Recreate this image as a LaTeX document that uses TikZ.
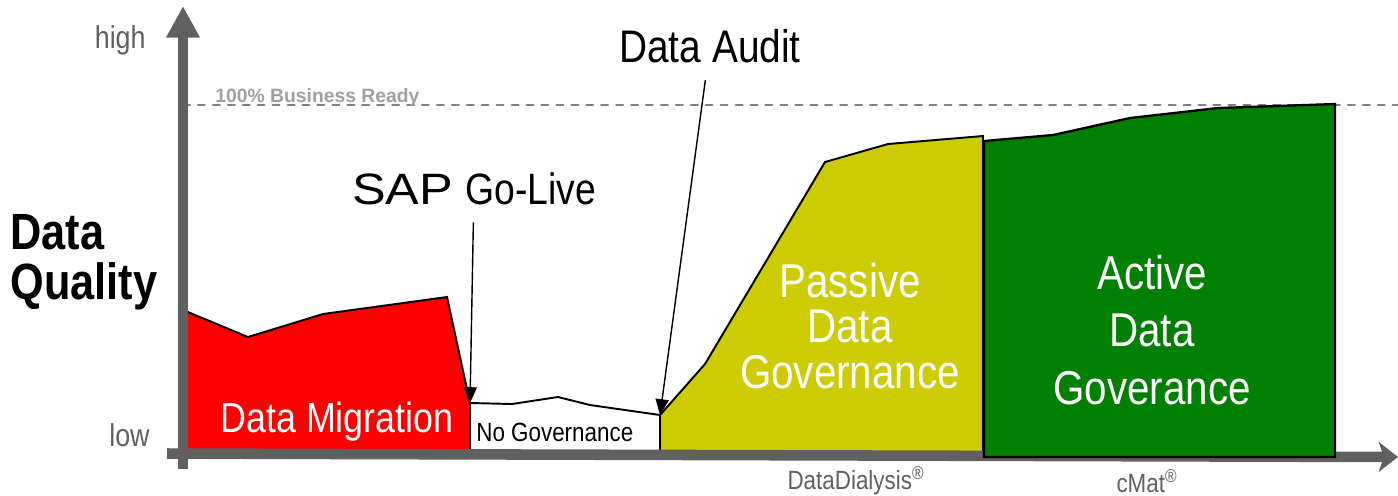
\documentclass[tikz,border=0pt]{standalone}
\usepackage{fontspec}
\setmainfont{Liberation Sans}
\newfontfamily\narrowfont{Liberation Sans}[FakeStretch=0.85]
\newfontfamily\widefont{Liberation Sans}[FakeStretch=1.15]
\usepackage{tikz}
\usepackage{tkz-euclide}
\usetikzlibrary{calc}
\usetikzlibrary{positioning}
\usetikzlibrary{arrows.meta}

\definecolor{axisgray}{HTML}{606060}
\definecolor{dashgray}{HTML}{808080}
\definecolor{readygray}{HTML}{A0A0A0}
\definecolor{migred}{HTML}{FF0000}
\definecolor{passiveyellow}{HTML}{CCCC00}
\definecolor{activegreen}{HTML}{008000}

\begin{document}
\begin{tikzpicture}[%
  >={Triangle[length=9pt, width=7.5pt]},
  x=0.02cm, y=-0.02cm,
  inner sep=0pt,
  axis/.style={line width=6pt, color=axisgray},
  area/.style={draw=black, line width=1.1pt, line join=miter},
  callout/.style={->, line width=0.8pt, shorten <=10pt},
  ready line/.style={dashgray, line width=1.1pt, dash pattern=on 4pt off 4.5pt},
]

  \useasboundingbox (0,0) rectangle (1398,495);

  \tkzDefPoint(183,105){L1}
  \tkzDefPoint(1398,105){L2}
  \tkzDrawSegment[ready line](L1,L2)

  \tkzDefPoint(183,310){R1}
  \tkzDefPoint(248,337){R2}
  \tkzDefPoint(323,314){R3}
  \tkzDefPoint(447,297){R4}
  \tkzDefPoint(470,403){R5}
  \tkzDefPoint(470,455){R6}
  \tkzDefPoint(183,455){R7}
  \tkzDrawPolygon[area,fill=migred](R1,R2,R3,R4,R5,R6,R7)

  \tkzDefPoint(512,404){W1}
  \tkzDefPoint(558,397){W2}
  \tkzDefPoint(590,405){W3}
  \tkzDefPoint(660,415){W4}
  \tkzDefPoint(660,455){W5}
  \tkzDrawPolygon[area,fill=white](R5,W1,W2,W3,W4,W5,R6)

  \tkzDefPoint(705,364){Y1}
  \tkzDefPoint(825,162){Y2}
  \tkzDefPoint(888,144){Y3}
  \tkzDefPoint(983,136){Y4}
  \tkzDefPoint(983,455){Y5}
  \tkzDrawPolygon[area,fill=passiveyellow](W4,Y1,Y2,Y3,Y4,Y5,W5)

  % axes
  \draw[axis, -{Triangle[length=18pt, width=18pt]}] (183,469) -- (183,6);
  \draw[axis, -{Stealth[length=11pt, width=17pt, inset=3pt]}] (167,453.5) -- (1398,457);

  \tkzDefPoint(984,141){G1}
  \tkzDefPoint(1053,135){G2}
  \tkzDefPoint(1130,118){G3}
  \tkzDefPoint(1218,108){G4}
  \tkzDefPoint(1335,104){G5}
  \tkzDefPoint(1335,457){G6}
  \tkzDefPoint(984,457){G7}
  \tkzDrawPolygon[area,line width=1.3pt,fill=activegreen](G1,G2,G3,G4,G5,G6,G7)

  \node[anchor=base east, text=axisgray, font=\narrowfont\fontsize{18}{18}\selectfont] (high) at (146,48) {high};
  \node[anchor=base east, text=axisgray, font=\narrowfont\fontsize{18}{18}\selectfont] (low) at (150,446) {low};
  \node[anchor=west, align=left, font=\narrowfont\bfseries\fontsize{29}{28.4}\selectfont] (quality) at (10,262) {Data\\Quality};
  \node[anchor=base west, text=readygray, font=\bfseries\fontsize{11}{11}\selectfont] (ready) at (215,102) {100\% Business Ready};

  \node[anchor=base, font=\fontsize{25}{25}\selectfont] (golive) at (474,204) {{\widefont SAP} {\narrowfont Go-Live}};
  \node[anchor=base, font=\narrowfont\fontsize{26}{26}\selectfont] (audit) at (710,62) {Data Audit};

  \node[anchor=base, text=white, font=\narrowfont\fontsize{24}{24}\selectfont] (migration) at (337,432) {Data Migration};
  \node[anchor=base west, font=\narrowfont\fontsize{15}{15}\selectfont] (nogov) at (476,441) {No Governance};
  \node[align=center, text=white, font=\narrowfont\fontsize{27}{26}\selectfont] (passive) at (850,326) {Passive\\Data\\Governance};
  \node[align=center, text=white, font=\narrowfont\fontsize{27}{32.5}\selectfont] (active) at (1152,330) {Active\\Data\\Goverance};

  \node[anchor=base, text=axisgray, font=\narrowfont\fontsize{15}{15}\selectfont] (dialysis) at (856,489) {DataDialysis\textsuperscript{\textregistered}};
  \node[anchor=base, text=axisgray, font=\narrowfont\fontsize{15}{15}\selectfont] (cmat) at (1147,492) {cMat\textsuperscript{\textregistered}};

  \draw[callout] (golive) -- (R5);
  \draw[callout] (audit) -- (W4);

\end{tikzpicture}
\end{document}
